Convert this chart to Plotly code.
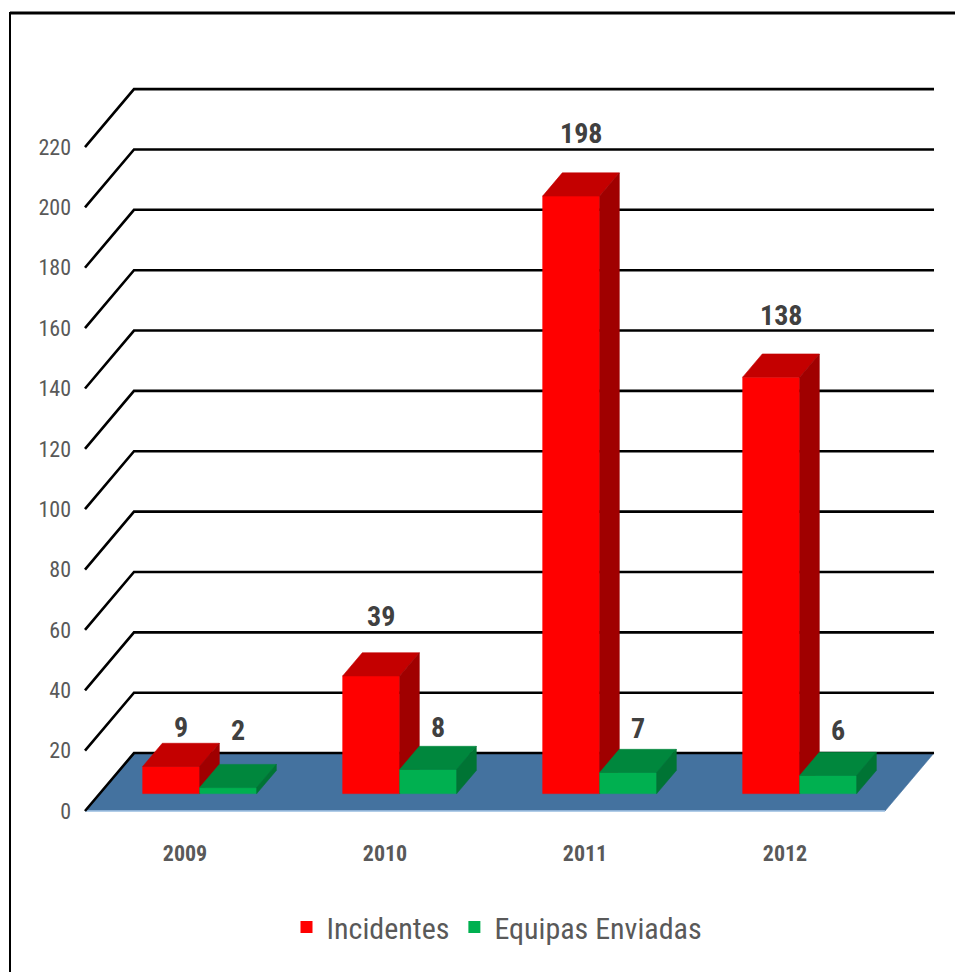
import plotly.graph_objects as go

# ---- data ----
categories = ["2009", "2010", "2011", "2012"]
incidentes = [9, 39, 198, 138]
equipas = [2, 8, 7, 6]
y_ticks = list(range(0, 221, 20))
series_names = ["Incidentes", "Equipas Enviadas"]

# ---- style ----
FRONT = ["#FF0000", "#00B050"]
TOP = ["#C40000", "#00873D"]
SIDE = ["#A00000", "#007434"]
FLOOR = "#44729F"
# per-label lift (px) above the back edge of the bar top
label_lift = [[16, 36, 39, 38], [34, 19, 21, 22]]

DX, DY = 0.245, 19.2      # full depth offset (category units, value units)
F0, F1 = 0.30, 0.70       # bar depth start / end (fraction of full depth)
BW = 0.285                # bar width in category units

NARROW = "Liberation Sans Narrow, Arial Narrow, Roboto Condensed, Liberation Sans, sans-serif"

OFF = 8  # page body margin in the browser
FIG_W, FIG_H = 963 - OFF, 972 - OFF


def P(x, v, d):
    return x + d * DX, v + d * DY


def poly(pts, color):
    xs, ys = zip(*[P(*p) for p in pts])
    xs = list(xs) + [xs[0]]
    ys = list(ys) + [ys[0]]
    return go.Scatter(x=xs, y=ys, mode="lines", fill="toself", fillcolor=color,
                      line=dict(color=color, width=0.6), hoverinfo="skip",
                      showlegend=False)


fig = go.Figure()

# floor
n = len(categories)
xl, xr = -0.5, n - 0.5
fig.add_trace(poly([(xl, 0, 0), (xr, 0, 0), (xr, 0, 1), (xl, 0, 1)], FLOOR))
fx, fy = zip(P(xl, 0, 0), P(xr, 0, 0))
fig.add_trace(go.Scatter(x=list(fx), y=list(fy), mode="lines",
                         line=dict(color="#A9C8E8", width=1.5),
                         hoverinfo="skip", showlegend=False))

# gridlines (left wall diagonal + back wall horizontal)
gx, gy = [], []
for t in y_ticks:
    for p in (P(xl, t, 0), P(xl, t, 1), P(xr, t, 1)):
        gx.append(p[0]); gy.append(p[1])
    gx.append(None); gy.append(None)
fig.add_trace(go.Scatter(x=gx, y=gy, mode="lines", line=dict(color="black", width=2.6),
                         hoverinfo="skip", showlegend=False))

# bars
values = [incidentes, equipas]
annotations = []
for i in range(n):
    for s in range(2):
        h = values[s][i]
        x0 = i - BW + s * BW
        x1 = x0 + BW
        fig.add_trace(poly([(x0, 0, F0), (x1, 0, F0), (x1, h, F0), (x0, h, F0)], FRONT[s]))
        fig.add_trace(poly([(x0, h, F0), (x1, h, F0), (x1, h, F1), (x0, h, F1)], TOP[s]))
        fig.add_trace(poly([(x1, 0, F0), (x1, 0, F1), (x1, h, F1), (x1, h, F0)], SIDE[s]))
        lx, _ = P((x0 + x1) / 2, h, (F0 + F1) / 2)
        _, ly = P(0, h, F1)
        annotations.append(dict(x=lx, y=ly, text=str(h), showarrow=False,
                                xanchor="center", yanchor="middle",
                                yshift=label_lift[s][i],
                                font=dict(family=NARROW, size=28, color="#404040",
                                          weight="bold")))

# legend entries
for s in range(2):
    fig.add_trace(go.Scatter(x=[None], y=[None], mode="markers", name=series_names[s],
                             marker=dict(symbol="square", size=14, color=FRONT[s])))

# plot area in figure pixels
L, T, W, H = 80 - OFF, 60 - OFF, 870, 775
def px(p): return (p - OFF - L) / W
def py(p): return (T + H - (p - OFF)) / H

shapes = [
    dict(type="line", xref="paper", yref="paper", x0=px(10), x1=px(975), y0=py(13), y1=py(13),
         line=dict(color="black", width=3)),
    dict(type="line", xref="paper", yref="paper", x0=px(10), x1=px(10), y0=py(12), y1=py(985),
         line=dict(color="black", width=2)),
]

fig.update_layout(
    width=FIG_W, height=FIG_H,
    margin=dict(l=L, r=FIG_W - L - W, t=T, b=FIG_H - T - H),
    paper_bgcolor="white", plot_bgcolor="white",
    xaxis=dict(range=[-0.525, 3.825], tickvals=list(range(n)), ticktext=categories,
               showgrid=False, zeroline=False, showline=False, ticks="",
               ticklabelstandoff=3,
               tickfont=dict(family=NARROW, size=22, color="#595959", weight="bold")),
    yaxis=dict(range=[-7.95, 248.84], tickvals=y_ticks, showgrid=False, zeroline=False,
               showline=False, ticks="", ticklabelstandoff=8,
               tickfont=dict(family=NARROW, size=22, color="#595959")),
    legend=dict(orientation="h", x=px(497), xanchor="center", y=py(927), yanchor="middle",
                font=dict(family=NARROW, size=30, color="#595959"),
                itemsizing="constant"),
    annotations=annotations,
    shapes=shapes,
)

fig.write_html("out.html")
